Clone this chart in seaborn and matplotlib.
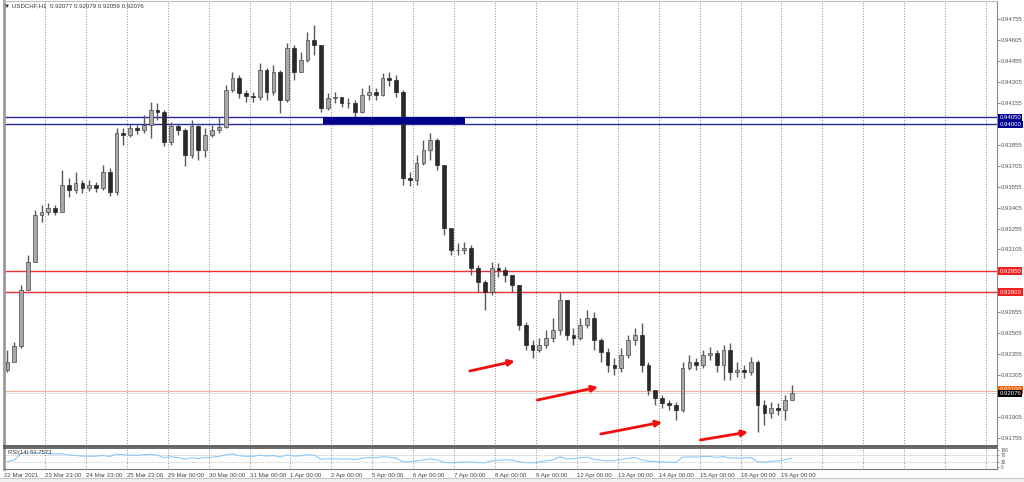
import numpy as np
import pandas as pd
import matplotlib
matplotlib.use("Agg")
import matplotlib.pyplot as plt
import seaborn as sns
from matplotlib.transforms import blended_transform_factory
from matplotlib.patches import Rectangle

# ---------------- data ----------------
first_open = 0.92242
close = [0.92299, 0.92414, 0.92815, 0.93015, 0.93352, 0.93372, 0.93402, 0.93372, 0.93567, 0.93531,
         0.93581, 0.93545, 0.93567, 0.93545, 0.93660, 0.93516, 0.93939, 0.93925, 0.93975, 0.93960,
         0.93996, 0.94103, 0.94089, 0.93874, 0.93989, 0.93960, 0.93781, 0.93989, 0.93817, 0.93925,
         0.93960, 0.93982, 0.94247, 0.94333, 0.94225, 0.94204, 0.94197, 0.94390, 0.94232, 0.94376,
         0.94175, 0.94547, 0.94376, 0.94461, 0.94605, 0.94569, 0.94118, 0.94189, 0.94197, 0.94154,
         0.94154, 0.94089, 0.94211, 0.94232, 0.94211, 0.94333, 0.94318, 0.94232, 0.93617, 0.93603,
         0.93724, 0.93817, 0.93889, 0.93710, 0.93258, 0.93101, 0.93101, 0.93115, 0.92972, 0.92872,
         0.92800, 0.92972, 0.92958, 0.92922, 0.92851, 0.92564, 0.92421, 0.92385, 0.92421, 0.92471,
         0.92529, 0.92743, 0.92493, 0.92471, 0.92564, 0.92614, 0.92457, 0.92371, 0.92277, 0.92256,
         0.92349, 0.92457, 0.92493, 0.92277, 0.92099, 0.92041, 0.92006, 0.91991, 0.91955, 0.92256,
         0.92299, 0.92277, 0.92349, 0.92364, 0.92277, 0.92385, 0.92228, 0.92242, 0.92228, 0.92299,
         0.91991, 0.91934, 0.91970, 0.91955, 0.92027, 0.92076]
high = [0.92385, 0.92442, 0.92851, 0.93065, 0.93387, 0.93423, 0.93436, 0.93423, 0.93674, 0.93617,
        0.93660, 0.93603, 0.93603, 0.93588, 0.93710, 0.93688, 0.93975, 0.93975, 0.94003, 0.93996,
        0.94067, 0.94161, 0.94154, 0.94103, 0.94017, 0.94003, 0.93975, 0.94032, 0.93996, 0.93975,
        0.93996, 0.94046, 0.94282, 0.94376, 0.94354, 0.94247, 0.94232, 0.94440, 0.94404, 0.94426,
        0.94390, 0.94583, 0.94569, 0.94519, 0.94662, 0.94712, 0.94569, 0.94225, 0.94232, 0.94197,
        0.94189, 0.94175, 0.94261, 0.94282, 0.94261, 0.94368, 0.94376, 0.94354, 0.94247, 0.93660,
        0.93781, 0.93889, 0.93939, 0.93903, 0.93710, 0.93244, 0.93151, 0.93158, 0.93137, 0.92994,
        0.92886, 0.93015, 0.93008, 0.92979, 0.92908, 0.92851, 0.92585, 0.92457, 0.92471, 0.92529,
        0.92614, 0.92800, 0.92743, 0.92543, 0.92614, 0.92671, 0.92657, 0.92471, 0.92399, 0.92328,
        0.92399, 0.92493, 0.92543, 0.92578, 0.92299, 0.92099, 0.92063, 0.92027, 0.92013, 0.92299,
        0.92349, 0.92328, 0.92385, 0.92406, 0.92385, 0.92421, 0.92435, 0.92299, 0.92277, 0.92335,
        0.92315, 0.92027, 0.92013, 0.92006, 0.92063, 0.92135]
low = [0.92228, 0.92371, 0.92399, 0.92815, 0.93015, 0.93301, 0.93352, 0.93352, 0.93372, 0.93480,
       0.93509, 0.93509, 0.93523, 0.93516, 0.93531, 0.93487, 0.93495, 0.93853, 0.93910, 0.93932,
       0.93939, 0.93903, 0.94032, 0.93846, 0.93853, 0.93925, 0.93703, 0.93760, 0.93745, 0.93767,
       0.93910, 0.93939, 0.93975, 0.94232, 0.94189, 0.94161, 0.94161, 0.94175, 0.94175, 0.94211,
       0.94082, 0.94161, 0.94318, 0.94404, 0.94447, 0.94497, 0.94089, 0.94103, 0.94154, 0.94125,
       0.94118, 0.94053, 0.94082, 0.94175, 0.94175, 0.94204, 0.94275, 0.94197, 0.93567, 0.93559,
       0.93567, 0.93710, 0.93745, 0.93674, 0.93208, 0.93065, 0.93065, 0.93072, 0.92922, 0.92800,
       0.92671, 0.92779, 0.92908, 0.92872, 0.92800, 0.92529, 0.92385, 0.92328, 0.92371, 0.92399,
       0.92442, 0.92493, 0.92457, 0.92421, 0.92457, 0.92543, 0.92385, 0.92299, 0.92228, 0.92206,
       0.92228, 0.92328, 0.92421, 0.92228, 0.92063, 0.91991, 0.91970, 0.91955, 0.91884, 0.91941,
       0.92242, 0.92242, 0.92256, 0.92315, 0.92228, 0.92171, 0.92171, 0.92192, 0.92185, 0.92206,
       0.91798, 0.91848, 0.91898, 0.91920, 0.91884, 0.92041]
rsi = [32, 40, 80, 82, 84, 80, 78, 76, 78, 70, 68, 64, 63, 64, 68, 62, 76, 72, 70, 68,
       72, 75, 70, 55, 60, 56, 46, 55, 50, 56, 58, 62, 72, 78, 66, 63, 62, 70, 64, 68,
       58, 72, 64, 66, 72, 70, 45, 48, 48, 46, 47, 44, 52, 55, 54, 60, 58, 52, 30, 30,
       36, 42, 48, 42, 28, 25, 27, 30, 28, 26, 25, 36, 40, 42, 40, 32, 26, 24, 30, 36,
       42, 60, 48, 48, 55, 58, 46, 40, 36, 37, 44, 52, 56, 42, 34, 32, 30, 28, 27, 58,
       60, 58, 62, 62, 56, 62, 52, 53, 52, 56, 30, 28, 34, 35, 44, 51.7573]

day_labels = ["22 Mar 2021", "23 Mar 23:00", "24 Mar 23:00", "25 Mar 23:00", "29 Mar 00:00",
              "30 Mar 00:00", "31 Mar 00:00", "1 Apr 00:00", "2 Apr 00:00", "5 Apr 00:00",
              "6 Apr 00:00", "7 Apr 00:00", "8 Apr 00:00", "9 Apr 00:00", "12 Apr 00:00",
              "13 Apr 00:00", "14 Apr 00:00", "15 Apr 00:00", "16 Apr 00:00", "19 Apr 00:00"]
price_ticks = [0.94755, 0.94605, 0.94455, 0.94305, 0.94155, 0.93855, 0.93705, 0.93555,
               0.93405, 0.93255, 0.93105, 0.92655, 0.92505, 0.92355, 0.92205, 0.91905, 0.91755]
blue_levels = [0.94050, 0.94000]
red_levels = [0.92950, 0.92800]
ask_level = 0.92092
ask_tag = 0.92100
bid_level = 0.92076
zone_start, zone_end = 46.3, 67.1   # candle index span of the filled zone
arrow_x0 = [67.8, 77.7, 87.0, 101.6]
arrow_y0 = [0.92235, 0.92027, 0.91784, 0.91741]
arrow_x1 = [74.4, 86.6, 96.0, 108.6]
arrow_y1 = [0.92306, 0.92120, 0.91869, 0.91798]
bars_per_day = 6
n_days_grid = 24

# ---------------- frame ----------------
df = pd.DataFrame({"close": close, "high": high, "low": low, "rsi": rsi})
df["open"] = [first_open] + close[:-1]
df["idx"] = np.arange(len(df))

sns.set_style("white")
plt.rcParams["font.family"] = ["Liberation Sans", "DejaVu Sans"]

W, H = 1024, 482
fig = plt.figure(figsize=(W / 100, H / 100), dpi=100, facecolor="white")

def fx(px):
    return px / W

def fy(py):
    return (H - py) / H

ax = fig.add_axes([fx(4), fy(446), fx(997) - fx(4), fy(1) - fy(446)])
axr = fig.add_axes([fx(4), fy(469), fx(997) - fx(4), fy(448) - fy(469)], sharex=ax)

xmax = 145.1
ax.set_xlim(-0.5, xmax)
ax.set_ylim(0.91698, 0.94884)

grid_x = [bars_per_day * k - 0.5 for k in range(1, n_days_grid + 1)]
for a in (ax, axr):
    for gx in grid_x:
        a.axvline(gx, color="#7a7a7a", lw=0.6, ls=(0, (1.2, 2.0)), zorder=0)

# candles
up = df["close"] >= df["open"]
ax.vlines(df["idx"], df["low"], df["high"], color="#5a5a5a", lw=1.0, zorder=2)
body_bottom = np.minimum(df["open"], df["close"])
body_h = np.maximum(np.abs(df["close"] - df["open"]), 0.00003)
ax.bar(df["idx"][up], body_h[up], bottom=body_bottom[up], width=0.55,
       color="#a8a8a8", edgecolor="#4a4a4a", linewidth=0.5, zorder=3)
ax.bar(df["idx"][~up], body_h[~up], bottom=body_bottom[~up], width=0.55,
       color="#2a2a2a", edgecolor="#2a2a2a", linewidth=0.5, zorder=3)

# horizontal levels
for lv in blue_levels:
    ax.axhline(lv, color="#2a2aa0", lw=1.0, zorder=1)
ax.add_patch(Rectangle((zone_start, blue_levels[1]), zone_end - zone_start,
                       blue_levels[0] - blue_levels[1], facecolor="#000088",
                       edgecolor="none", zorder=4))
for lv in red_levels:
    ax.axhline(lv, color="#f03030", lw=1.0, zorder=1)
ax.axhline(ask_level, color="#f5b09a", lw=0.8, zorder=1)
ax.axhline(bid_level, color="#d8d8d8", lw=0.6, zorder=1)

# arrows
for x0, y0, x1, y1 in zip(arrow_x0, arrow_y0, arrow_x1, arrow_y1):
    ax.annotate("", xy=(x1, y1), xytext=(x0, y0),
                arrowprops=dict(arrowstyle="-|>", color="#f01010", lw=2.0,
                                mutation_scale=9, shrinkA=0, shrinkB=0), zorder=6)

# right price axis
ax.yaxis.tick_right()
ax.set_yticks(price_ticks)
ax.set_yticklabels([f"{p:.5f}" for p in price_ticks])
ax.tick_params(axis="y", labelsize=4.3, length=2, width=0.5, colors="#555555",
               pad=1.0, right=True, left=False)
ax.tick_params(axis="x", bottom=False, labelbottom=False)

tr = blended_transform_factory(ax.transAxes, ax.transData)
def tag(level, fc, tc="white"):
    ax.text(1.0025, level, f"{level:.5f}", transform=tr, fontsize=4.3, color=tc,
            ha="left", va="center", clip_on=False, zorder=10,
            bbox=dict(boxstyle="square,pad=0.2", fc=fc, ec="none"))

for lv in blue_levels:
    tag(lv, "#000090")
for lv in red_levels:
    tag(lv, "#f02020")
tag(ask_tag, "#f06010")
tag(bid_level, "#000000")

for side in ["top", "left", "right", "bottom"]:
    ax.spines[side].set_visible(True)
ax.spines["left"].set_color("#9a9a9a")
ax.spines["left"].set_linewidth(2.0)
ax.spines["right"].set_color("#8a8a8a")
ax.spines["right"].set_linewidth(0.8)
ax.spines["top"].set_color("#bdbdbd")
ax.spines["top"].set_linewidth(0.8)
ax.spines["bottom"].set_color("#606060")
ax.spines["bottom"].set_linewidth(1.4)

# RSI panel
sns.lineplot(data=df, x="idx", y="rsi", ax=axr, color="#8cc8f8", lw=0.8, legend=False)
axr.set_ylim(-11.8, 111.8)
for lvl in (70, 30):
    axr.axhline(lvl, color="#b0b0b0", lw=0.5, ls=(0, (1.5, 1.5)), zorder=0)
axr.yaxis.tick_right()
axr.set_yticks([100, 70, 30, 0])
axr.set_yticklabels(["100", "70", "30", "0"])
axr.tick_params(axis="y", labelsize=3.4, length=1.5, width=0.4, colors="#555555", pad=1)
axr.set_xticks([bars_per_day * k - 0.5 for k in range(len(day_labels))])
axr.set_xticklabels(day_labels, ha="left")
axr.tick_params(axis="x", labelsize=4.4, length=2.0, width=0.5, colors="#444444",
                pad=1.0, direction="out")
axr.set_xlabel("")
axr.set_ylabel("")
ax.set_xlabel("")
ax.set_ylabel("")
for side in ["top", "left", "right", "bottom"]:
    axr.spines[side].set_visible(True)
axr.spines["top"].set_color("#505050")
axr.spines["top"].set_linewidth(1.2)
axr.spines["bottom"].set_color("#7a7a7a")
axr.spines["bottom"].set_linewidth(0.8)
axr.spines["left"].set_color("#9a9a9a")
axr.spines["left"].set_linewidth(2.0)
axr.spines["right"].set_color("#8a8a8a")
axr.spines["right"].set_linewidth(0.8)
axr.set_xlim(-0.5, xmax)
axr.text(0.004, 0.78, "RSI(14) 51.7573", transform=axr.transAxes, fontsize=4.2,
         color="#333333", ha="left", va="center")

# header
fig.text(fx(4), fy(6), "\u25bc USDCHF,H1  0.92077 0.92079 0.92059 0.92076",
         fontsize=4.4, color="#333333", ha="left", va="center",
         family=["Liberation Sans", "DejaVu Sans"])

# bottom tab strip
fig.patches.append(Rectangle((0, 0), 1, fy(478), transform=fig.transFigure,
                             facecolor="#f0f0f0", edgecolor="none", zorder=-1))
fig.lines.append(plt.Line2D([0, 1], [fy(478), fy(478)], transform=fig.transFigure,
                            color="#c8c8c8", lw=0.8))

fig.savefig("out.png", dpi=100, facecolor="white")
